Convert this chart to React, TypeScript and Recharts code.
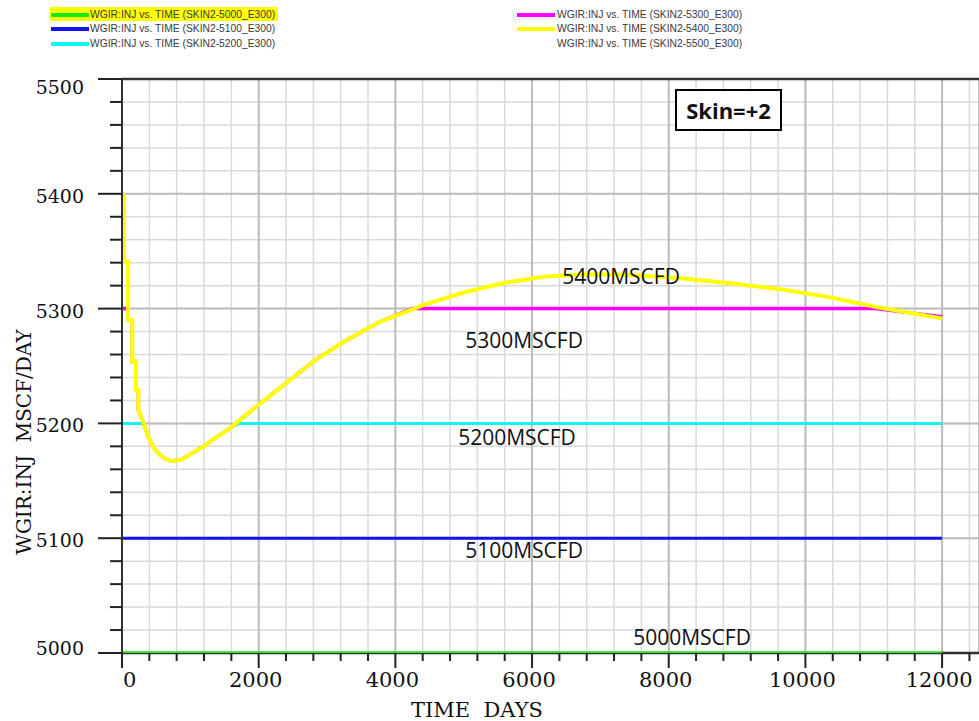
import React from "react";
import { LineChart, Line, XAxis, YAxis, CartesianGrid, ReferenceDot, Label } from "recharts";

// WGIR:INJ vs TIME, skin +2, six target rates
const SERIES_NAMES = [
  "SKIN2-5000_E300",
  "SKIN2-5100_E300",
  "SKIN2-5200_E300",
  "SKIN2-5300_E300",
  "SKIN2-5400_E300",
  "SKIN2-5500_E300",
];
const SERIES_COLORS = ["#10ee10", "#1212f2", "#14f4f4", "#ff00ff", "#ffff00", "#ffffff"];

const T_5000 = [0, 12000];
const Q_5000 = [5000, 5000];

const T_5100 = [0, 12000];
const Q_5100 = [5100, 5100];

const T_5200 = [0, 320, 385, 483, 605, 725, 871, 1115, 1360, 1605, 1720, 12000];
const Q_5200 = [5200, 5200, 5188, 5177, 5170, 5167, 5168.5, 5177, 5187, 5197, 5200, 5200];

const T_5300 = [
  0, 90, 90, 150, 150, 205, 205, 240, 240, 290, 340, 385, 483, 605, 725, 871, 1115, 1360,
  1605, 1848, 2336, 2824, 3300, 3775, 4250, 11030, 11500, 12000,
];
const Q_5300 = [
  5300, 5300, 5290, 5290, 5254, 5254, 5229, 5229, 5212, 5204, 5196, 5188, 5177, 5170, 5167,
  5168.5, 5177, 5187, 5197, 5209, 5232, 5255, 5273, 5288.5, 5300, 5300, 5296.5, 5293,
];

const T_5400 = [
  30, 30, 90, 90, 150, 150, 205, 205, 240, 240, 290, 340, 385, 483, 605, 725, 871, 1115,
  1360, 1605, 1848, 2336, 2824, 3300, 3775, 4408, 5000, 5600, 6200, 6800, 7400, 8164, 8900,
  9612, 10344, 11076, 12000,
];
const Q_5400 = [
  5400, 5341, 5341, 5290, 5290, 5254, 5254, 5229, 5229, 5212, 5204, 5196, 5188, 5177, 5170,
  5167, 5168.5, 5177, 5187, 5197, 5209, 5232, 5255, 5273, 5288.5, 5303, 5314, 5322.5, 5328,
  5330, 5329.5, 5326.5, 5322, 5317, 5310, 5301, 5291.5,
];

const X_TICKS = [
  0, 400, 800, 1200, 1600, 2000, 2400, 2800, 3200, 3600, 4000, 4400, 4800, 5200, 5600, 6000,
  6400, 6800, 7200, 7600, 8000, 8400, 8800, 9200, 9600, 10000, 10400, 10800, 11200, 11600,
  12000, 12400,
];
const X_MAJOR = [0, 2000, 4000, 6000, 8000, 10000, 12000];
const Y_TICKS = [
  5000, 5020, 5040, 5060, 5080, 5100, 5120, 5140, 5160, 5180, 5200, 5220, 5240, 5260, 5280,
  5300, 5320, 5340, 5360, 5380, 5400, 5420, 5440, 5460, 5480, 5500,
];
const Y_MAJOR = [5000, 5100, 5200, 5300, 5400, 5500];
const Y_BASE = [5000];

const NOTE_TEXT = ["5400MSCFD", "5300MSCFD", "5200MSCFD", "5100MSCFD", "5000MSCFD"];
const NOTE_T = [7302, 5883, 5780, 5883, 8341];
const NOTE_Q = [5328.5, 5273, 5188, 5090, 5014];

const X_DOMAIN = [0, 12540];
const Y_DOMAIN = [5000, 5500];

const zip = (t: number[], q: number[]) => t.map((v, i) => ({ t: v, q: q[i] }));
const SERIES_DATA = [
  zip(T_5000, Q_5000),
  zip(T_5100, Q_5100),
  zip(T_5200, Q_5200),
  zip(T_5300, Q_5300),
  zip(T_5400, Q_5400),
];
const SERIES_WIDTH = [3, 3, 3, 3.5, 4];

const SERIF = "'DejaVu Serif', serif";

function XTick({ x, y, payload }: any) {
  const v = payload.value;
  const major = v % 2000 === 0;
  return (
    <g>
      <line x1={x} y1={y} x2={x} y2={y + (major ? 15 : 8)} stroke="#222" strokeWidth={2} />
      {major && (
        <text
          x={v === 0 ? x + 1 : x - 3}
          y={y + 34}
          textAnchor={v === 0 ? "start" : "middle"}
          fontFamily={SERIF}
          fontSize={21}
          fill="#111"
        >
          {v}
        </text>
      )}
    </g>
  );
}

function YTick({ x, y, payload }: any) {
  const v = payload.value;
  const major = v % 100 === 0;
  const dy = v === 5500 ? 15 : v === 5000 ? 2 : 9;
  return (
    <g>
      <line x1={x - (major ? 24 : 12)} y1={y} x2={x} y2={y} stroke="#222" strokeWidth={2} />
      {major && (
        <text x={84} y={y + dy} textAnchor="end" fontFamily={SERIF} fontSize={19} fill="#111">
          {v}
        </text>
      )}
    </g>
  );
}

function Note({ cx, cy, text }: any) {
  return (
    <text
      x={cx}
      y={cy}
      textAnchor="middle"
      dominantBaseline="central"
      fontFamily="'Open Sans', sans-serif"
      fontSize={21}
      fill="#111"
    >
      {text}
    </text>
  );
}

function LegendBlock() {
  const cols = [
    { line: 51, text: 90 },
    { line: 517, text: 557 },
  ];
  const rows = [14.5, 29, 43.5];
  return (
    <>
      <div
        style={{ position: "absolute", left: 50, top: 7, width: 228, height: 14, background: "#ffff00" }}
      />
      {SERIES_NAMES.map((name, i) => {
        const c = cols[Math.floor(i / 3)];
        const cy = rows[i % 3];
        return (
          <React.Fragment key={name}>
            <div
              style={{
                position: "absolute",
                left: c.line,
                top: cy - 2,
                width: 38,
                height: 4,
                background: SERIES_COLORS[i],
              }}
            />
            <div
              style={{
                position: "absolute",
                left: c.text,
                top: cy - 7,
                height: 14,
                lineHeight: "14px",
                fontFamily: "'Liberation Sans', Arial, sans-serif",
                fontSize: 10.3,
                color: "#3a3a3a",
                whiteSpace: "nowrap",
              }}
            >
              {`WGIR:INJ vs. TIME (${name})`}
            </div>
          </React.Fragment>
        );
      })}
    </>
  );
}

export default function App() {
  return (
    <div style={{ position: "absolute", left: 0, top: 0, width: 979, height: 721, background: "#fff" }}>
      <LineChart width={979} height={721} margin={{ top: 79, right: 0, bottom: 0, left: 0 }}>
        <XAxis xAxisId="major" type="number" dataKey="t" domain={X_DOMAIN} ticks={X_MAJOR} hide allowDataOverflow />
        <YAxis yAxisId="major" type="number" domain={Y_DOMAIN} ticks={Y_MAJOR} hide allowDataOverflow />
        <YAxis yAxisId="base" type="number" domain={Y_DOMAIN} ticks={Y_BASE} hide allowDataOverflow />
        <CartesianGrid stroke="#dadada" strokeWidth={1.5} />
        <CartesianGrid xAxisId="major" yAxisId="major" stroke="#bdbdbd" strokeWidth={2} />
        <CartesianGrid xAxisId="major" yAxisId="base" vertical={false} stroke="#333" strokeWidth={2.5} />
        <XAxis
          type="number"
          dataKey="t"
          domain={X_DOMAIN}
          ticks={X_TICKS}
          interval={0}
          height={68}
          tickSize={0}
          tickMargin={0}
          tickLine={false}
          tick={<XTick />}
          axisLine={false}
          allowDataOverflow
        >
          <Label
            content={() => (
              <text
                x={477}
                y={717}
                textAnchor="middle"
                fontFamily={SERIF}
                fontSize={21}
                fill="#111"
                style={{ whiteSpace: "pre" }}
              >
                {"TIME  DAYS"}
              </text>
            )}
          />
        </XAxis>
        <YAxis
          type="number"
          domain={Y_DOMAIN}
          ticks={Y_TICKS}
          interval={0}
          width={122}
          tickSize={0}
          tickMargin={0}
          tickLine={false}
          tick={<YTick />}
          axisLine={{ stroke: "#333", strokeWidth: 2 }}
          allowDataOverflow
        >
          <Label
            content={() => (
              <text
                transform="translate(31,442) rotate(-90)"
                textAnchor="middle"
                fontFamily={SERIF}
                fontSize={20}
                fill="#111"
                style={{ whiteSpace: "pre" }}
              >
                {"WGIR:INJ  MSCF/DAY"}
              </text>
            )}
          />
        </YAxis>
        {SERIES_DATA.map((d, i) => (
          <Line
            key={SERIES_NAMES[i]}
            data={d}
            dataKey="q"
            type="linear"
            stroke={SERIES_COLORS[i]}
            strokeWidth={SERIES_WIDTH[i]}
            dot={false}
            isAnimationActive={false}
          />
        ))}
        {NOTE_TEXT.map((txt, i) => (
          <ReferenceDot
            key={txt}
            x={NOTE_T[i]}
            y={NOTE_Q[i]}
            r={0}
            ifOverflow="visible"
            shape={(p: any) => <Note cx={p.cx} cy={p.cy} text={txt} />}
          />
        ))}
      </LineChart>
      <LegendBlock />
      <div
        style={{
          position: "absolute",
          left: 675,
          top: 89,
          width: 107,
          height: 42,
          boxSizing: "border-box",
          border: "2px solid #000",
          background: "#fff",
          display: "flex",
          alignItems: "center",
          justifyContent: "center",
          fontFamily: "'Open Sans', sans-serif",
          fontWeight: 700,
          fontSize: 22,
          color: "#111",
        }}
      >
        Skin=+2
      </div>
    </div>
  );
}
